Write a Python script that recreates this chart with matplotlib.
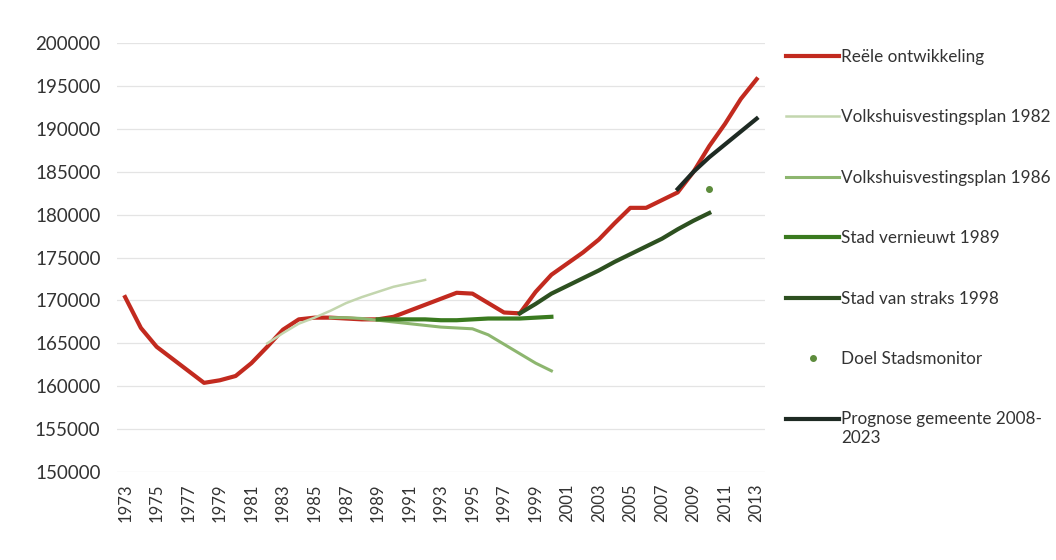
import numpy as np
import matplotlib
matplotlib.use('Agg')
import matplotlib.pyplot as plt
from matplotlib.legend_handler import HandlerLine2D

# data
years_real = list(range(1973, 2014))
real = [170400, 166800, 164600, 163200, 161800, 160400, 160700, 161200, 162700, 164600,
        166600, 167800, 168000, 168000, 167900, 167800, 167800, 168100, 168800, 169500,
        170200, 170900, 170800, 169700, 168600, 168500, 171000, 173000, 174300, 175600,
        177100, 179000, 180800, 180800, 181700, 182600, 185000, 188000, 190600, 193500,
        195800]

years_vp82 = list(range(1982, 1993))
vp82 = [165000, 166200, 167300, 168000, 168800, 169700, 170400, 171000, 171600, 172000, 172400]

years_vp86 = list(range(1986, 2001))
vp86 = [168000, 168000, 167900, 167700, 167500, 167300, 167100, 166900, 166800, 166700,
        166000, 164900, 163800, 162700, 161800]

years_sv89 = list(range(1989, 2001))
sv89 = [167800, 167800, 167800, 167800, 167700, 167700, 167800, 167900, 167900, 167900, 168000, 168100]

years_svs98 = list(range(1998, 2011))
svs98 = [168500, 169600, 170800, 171700, 172600, 173500, 174500, 175400, 176300, 177200,
         178300, 179300, 180200]

years_doel = [2010]
doel = [183000]

years_prog = list(range(2008, 2014))
prog = [183000, 185000, 186700, 188200, 189700, 191200]

labels = ['Reële ontwikkeling', 'Volkshuisvestingsplan 1982', 'Volkshuisvestingsplan 1986',
          'Stad vernieuwt 1989', 'Stad van straks 1998', 'Doel Stadsmonitor',
          'Prognose gemeente 2008-\n2023']

plt.rcParams['font.family'] = ['Lato', 'DejaVu Sans']
txt = '#333333'


# legend line for the two-line label sits at the first line of text
class FirstLineHandler(HandlerLine2D):
    def create_artists(self, legend, orig_handle, xdescent, ydescent, width, height,
                       fontsize, trans):
        arts = super().create_artists(legend, orig_handle, xdescent, ydescent, width,
                                      height, fontsize, trans)
        for a in arts:
            a.set_ydata(np.asarray(a.get_ydata()) + fontsize * 0.62)
        return arts


fig = plt.figure(figsize=(10.56, 5.6), dpi=100)
ax = fig.add_axes([0.111, 0.157, 0.613, 0.766])

ax.plot(years_real, real, color='#c22a1f', lw=3, label=labels[0])
ax.plot(years_vp82, vp82, color='#c3d6ae', lw=1.8, label=labels[1])
ax.plot(years_vp86, vp86, color='#8db66f', lw=2.2, label=labels[2])
ax.plot(years_sv89, sv89, color='#3a7a1f', lw=3, label=labels[3])
ax.plot(years_svs98, svs98, color='#2d5020', lw=3, label=labels[4])
ax.plot(years_doel, doel, 'o', color='#5d8c3c', ms=4, lw=0, label=labels[5])
prog_line, = ax.plot(years_prog, prog, color='#1e2a23', lw=3, label=labels[6])

ax.set_xlim(1972.5, 2013.5)
ax.set_ylim(150000, 200000)
ax.set_yticks(np.arange(150000, 200001, 5000))
ax.set_xticks(years_real[::2])
ax.set_xticklabels([str(y) for y in years_real[::2]], rotation=90)
ax.tick_params(length=0, colors=txt)
ax.tick_params(axis='y', pad=12, labelsize=13.5)
ax.tick_params(axis='x', pad=8, labelsize=12)
ax.grid(axis='y', color='#e4e4e4', lw=0.9)
ax.set_axisbelow(True)
for s in ax.spines.values():
    s.set_visible(False)

fig.legend(loc='upper left', bbox_to_anchor=(0.738, 0.925), frameon=False,
           fontsize=12.3, labelcolor=txt, handlelength=3.1, handletextpad=0.1,
           labelspacing=2.6, borderaxespad=0,
           handler_map={prog_line: FirstLineHandler()})

fig.savefig('out.png', dpi=100, facecolor='white')
